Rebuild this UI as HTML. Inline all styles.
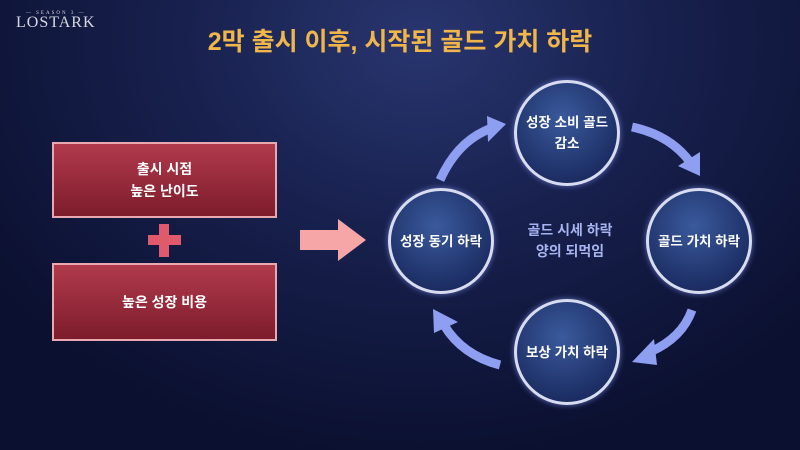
<!DOCTYPE html>
<html><head><meta charset="utf-8"><style>
body{margin:0;width:800px;height:450px;overflow:hidden;font-family:"Liberation Sans","Noto Sans CJK KR",sans-serif;
background:radial-gradient(ellipse 520px 420px at 420px 40px,#28356f 0%,#18214e 45%,#0b1030 100%);position:relative}
.t{position:absolute;left:0;width:800px;top:22px;text-align:center;color:#f0b64a;font-size:25px;font-weight:bold}
.logo{position:absolute;left:16px;top:11px;color:#d8d8e0;font-family:"Liberation Serif",serif;font-size:16px;letter-spacing:1px}
.logo small{display:block;font-size:5px;text-align:center;letter-spacing:2px;margin-bottom:-2px}
.box{position:absolute;left:52px;width:221px;border:2px solid #e9a7b0;background:linear-gradient(#b03a4c,#7d1c2c);color:#fff;font-size:14px;font-weight:bold;text-align:center;display:flex;align-items:center;justify-content:center;line-height:22px}
.c{position:absolute;width:100px;height:100px;border-radius:50%;border:3px solid #d8dcf0;background:radial-gradient(circle at 45% 35%,#3a5a9c,#1d2f66 70%,#16234f);color:#fff;font-size:13.5px;font-weight:bold;display:flex;align-items:center;justify-content:center;text-align:center;line-height:21px;box-shadow:0 0 6px #6070c0}
.mid{position:absolute;left:500px;top:220px;width:140px;text-align:center;color:#a8b4f0;font-size:14px;font-weight:bold;line-height:21px}
</style></head><body>
<div class="logo"><small>— SEASON 3 —</small>LOSTARK</div>
<div class="t">2막 출시 이후, 시작된 골드 가치 하락</div>
<div class="box" style="top:142px;height:72px">출시 시점<br>높은 난이도</div>
<div class="box" style="top:263px;height:74px">높은 성장 비용</div>
<svg width="800" height="450" style="position:absolute;left:0;top:0">
<rect x="148" y="235" width="33" height="10" fill="#e05a6c"/><rect x="159" y="224" width="10" height="33" fill="#e05a6c"/>
<polygon points="300,230 338,230 338,219 366,240 338,261 338,250 300,250" fill="#f6a6a6"/>
<g fill="#8e9ef0" stroke="#8e9ef0">
<path d="M440,180 Q458,140 492,128" fill="none" stroke-width="9"/><polygon points="487,116 506,124 488,142" stroke="none"/>
<path d="M632,127 Q670,135 690,162" fill="none" stroke-width="9"/><polygon points="678,166 700,176 700,152" stroke="none"/>
<path d="M692,310 Q682,338 650,352" fill="none" stroke-width="9"/><polygon points="654,339 632,362 657,365" stroke="none"/>
<path d="M500,365 Q462,355 444,325" fill="none" stroke-width="9"/><polygon points="433,309 434,333 458,322" stroke="none"/>
</g></svg>
<div class="c" style="left:514px;top:80px">성장 소비 골드<br>감소</div>
<div class="c" style="left:646px;top:188px">골드 가치 하락</div>
<div class="c" style="left:514px;top:299px">보상 가치 하락</div>
<div class="c" style="left:388px;top:188px">성장 동기 하락</div>
<div class="mid">골드 시세 하락<br>양의 되먹임</div>
</body></html>
